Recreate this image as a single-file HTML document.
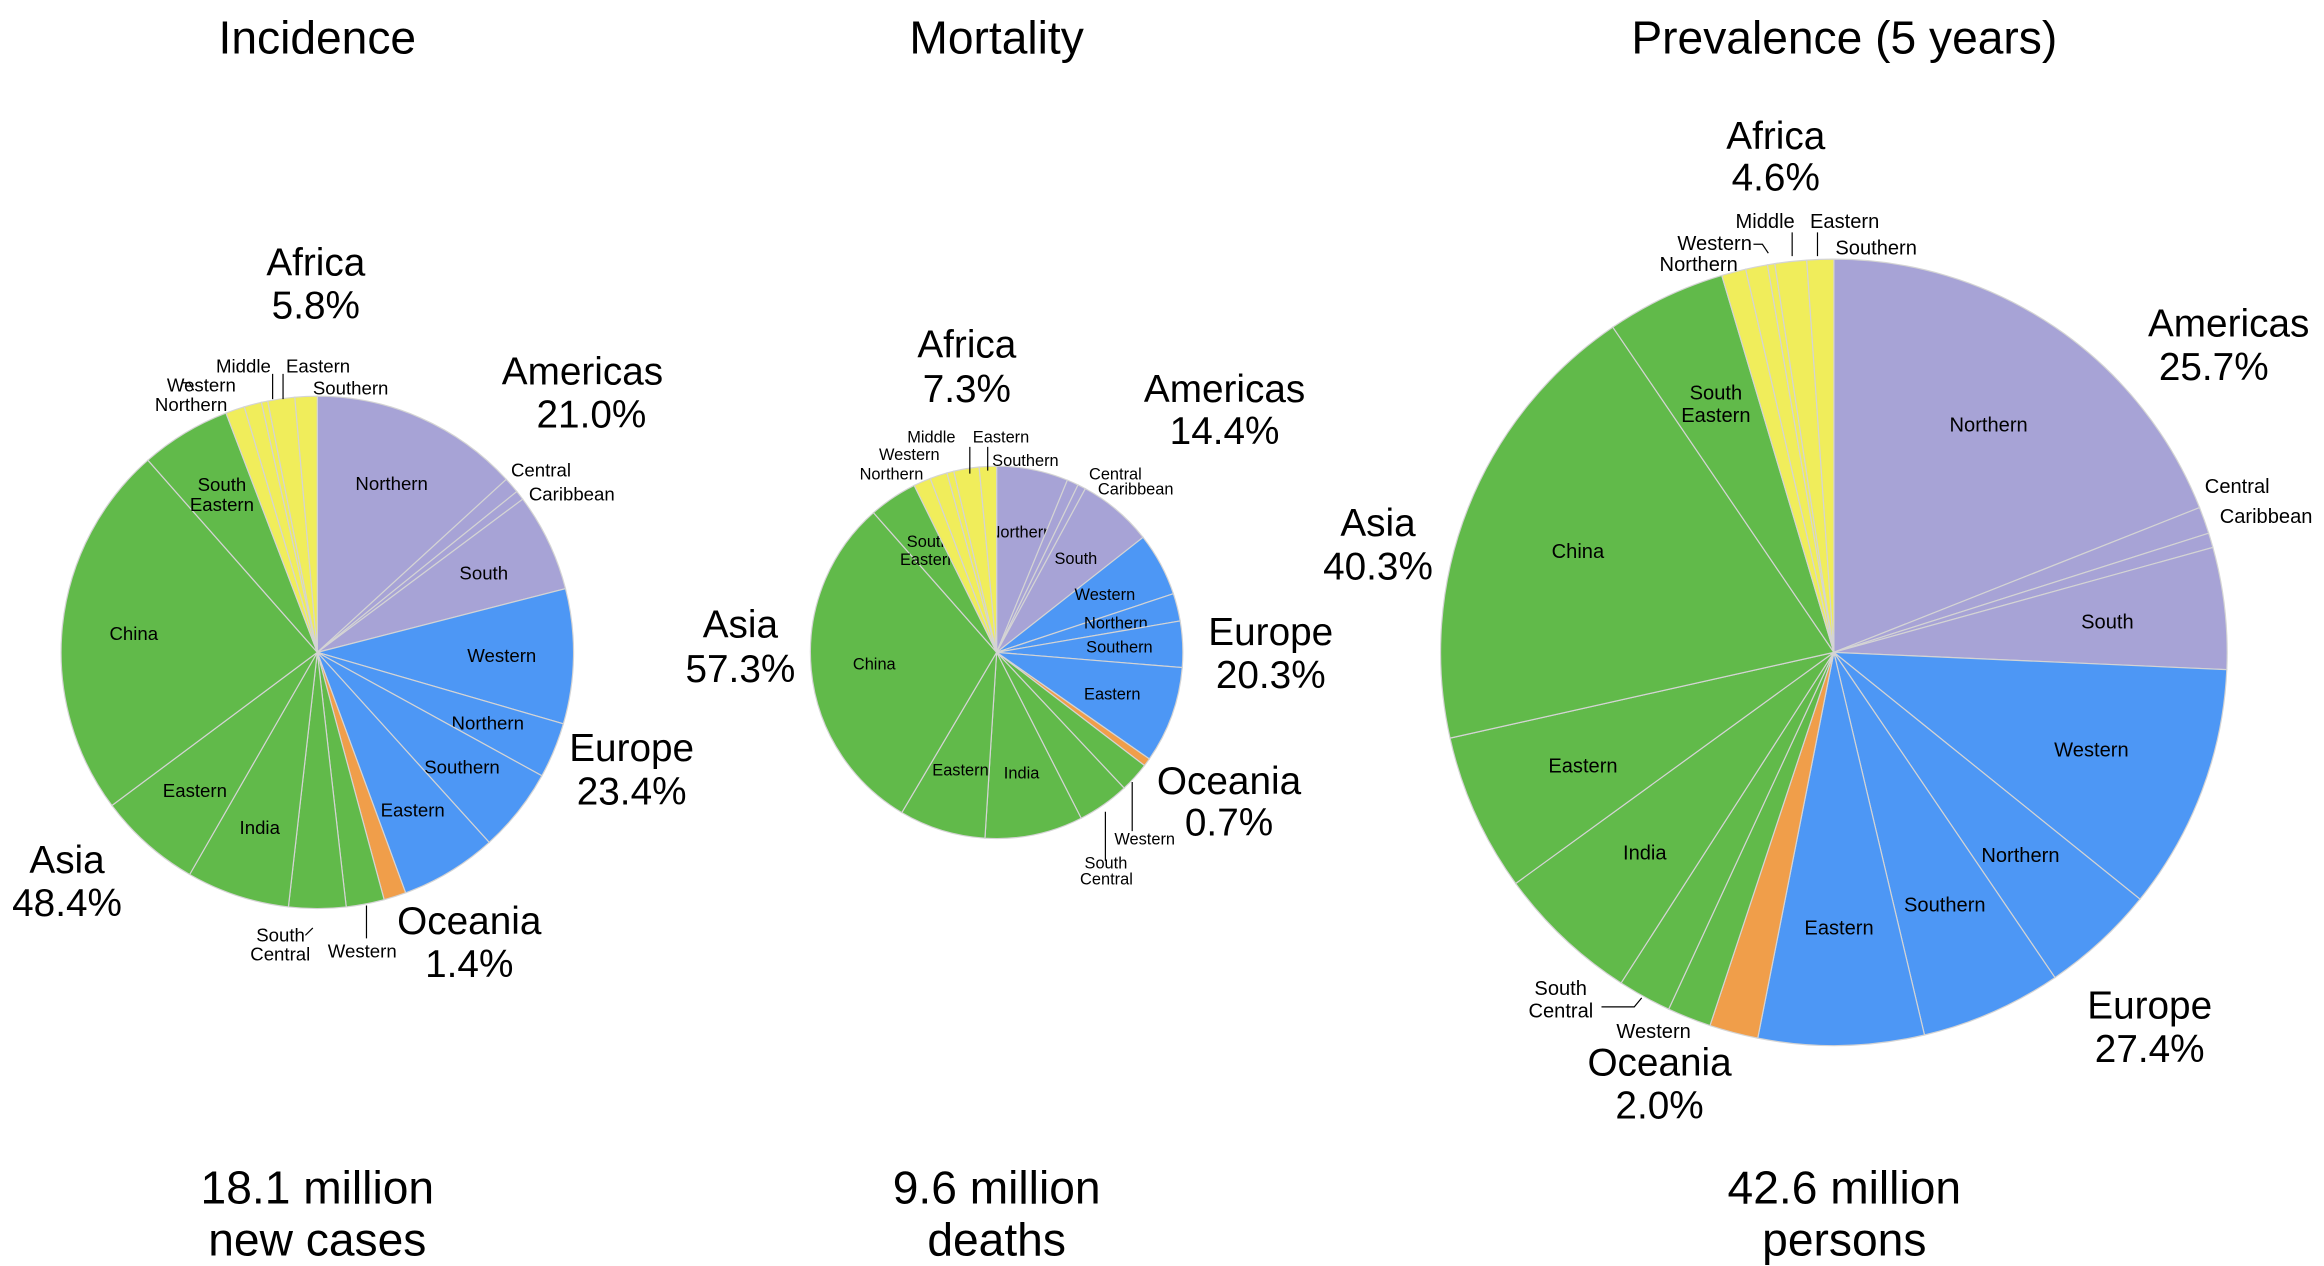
<!DOCTYPE html>
<html><head><meta charset="utf-8"><style>
html,body{margin:0;padding:0;background:#fff}
svg{display:block}
text{font-family:"Liberation Sans",Arial,sans-serif;fill:#000}
</style></head><body>
<svg id="chart" width="2324" height="1266" viewBox="0 0 1560 850" preserveAspectRatio="none" xmlns="http://www.w3.org/2000/svg">
<g id="pies"></g>
<g id="labels" font-size="13">
  <text x="213" y="36" font-size="31" text-anchor="middle">Incidence</text>
  <text x="669" y="36" font-size="31" text-anchor="middle">Mortality</text>
  <text x="1238" y="36" font-size="31" text-anchor="middle">Prevalence (5 years)</text>
  <g font-size="31" text-anchor="middle"><text x="213" y="808">18.1 million</text><text x="213" y="843">new cases</text></g>
  <g font-size="31" text-anchor="middle"><text x="669" y="808">9.6 million</text><text x="669" y="843">deaths</text></g>
  <g font-size="31" text-anchor="middle"><text x="1238" y="808">42.6 million</text><text x="1238" y="843">persons</text></g>

  <g font-size="26" text-anchor="middle">
    <text x="212" y="185">Africa</text><text x="212" y="214">5.8%</text>
    <text x="391" y="258">Americas</text><text x="397" y="287">21.0%</text>
    <text x="424" y="511">Europe</text><text x="424" y="540">23.4%</text>
    <text x="315" y="627">Oceania</text><text x="315" y="656">1.4%</text>
    <text x="45" y="586">Asia</text><text x="45" y="615">48.4%</text>
  </g>
  <g font-size="26" text-anchor="middle">
    <text x="649" y="240">Africa</text><text x="649" y="270">7.3%</text>
    <text x="822" y="270">Americas</text><text x="822" y="298">14.4%</text>
    <text x="853" y="433">Europe</text><text x="853" y="462">20.3%</text>
    <text x="825" y="533">Oceania</text><text x="825" y="561">0.7%</text>
    <text x="497" y="428">Asia</text><text x="497" y="458">57.3%</text>
  </g>
  <g font-size="26" text-anchor="middle">
    <text x="1192" y="100">Africa</text><text x="1192" y="128">4.6%</text>
    <text x="1496" y="226">Americas</text><text x="1486" y="255">25.7%</text>
    <text x="1443" y="684">Europe</text><text x="1443" y="713">27.4%</text>
    <text x="1114" y="722">Oceania</text><text x="1114" y="751">2.0%</text>
    <text x="925" y="360">Asia</text><text x="925" y="389">40.3%</text>
  </g>

  <g font-size="12.5">
    <text x="145" y="250">Middle</text><text x="192" y="250">Eastern</text>
    <text x="112" y="263">Western</text><text x="104" y="276">Northern</text>
    <text x="210" y="265">Southern</text>
    <text x="343" y="320">Central</text><text x="355" y="336">Caribbean</text>
    <text x="172" y="632">South</text><text x="168" y="645">Central</text>
    <text x="220" y="643">Western</text>
    <path d="M183 251V268M190 251V268M122 257H127L130 262M246 608V630M210 623L205 628" stroke="#000" stroke-width="0.8" fill="none"/>
  </g>
  <g font-size="11">
    <text x="609" y="297">Middle</text><text x="653" y="297">Eastern</text>
    <text x="590" y="309">Western</text><text x="577" y="322">Northern</text>
    <text x="666" y="313">Southern</text>
    <text x="731" y="322">Central</text><text x="737" y="332">Caribbean</text>
    <text x="728" y="583">South</text><text x="725" y="594">Central</text>
    <text x="748" y="567">Western</text>
    <path d="M651 300V318M663 300V316M742 545V578M760 525V558" stroke="#000" stroke-width="0.8" fill="none"/>
  </g>
  <g font-size="13.5">
    <text x="1165" y="153">Middle</text><text x="1215" y="153">Eastern</text>
    <text x="1126" y="168">Western</text><text x="1114" y="182">Northern</text>
    <text x="1232" y="171">Southern</text>
    <text x="1480" y="331">Central</text><text x="1490" y="351">Caribbean</text>
    <text x="1030" y="668">South</text><text x="1026" y="683">Central</text>
    <text x="1085" y="697">Western</text>
    <path d="M1203 156V172M1220 156V172M1177 164H1183L1187 170M1075 676H1097L1102 670" stroke="#000" stroke-width="0.8" fill="none"/>
  </g>
</g>
</svg>
<script>
// slice order clockwise from 12 o'clock
const sliceNames = ["Am-Northern","Am-Central","Am-Caribbean","Am-South","Eu-Western","Eu-Northern","Eu-Southern","Eu-Eastern","Oceania","As-Western","As-SouthCentral","As-India","As-Eastern","As-China","As-SouthEastern","Af-Northern","Af-Western","Af-Middle","Af-Eastern","Af-Southern"];
const sliceRegions = ["am","am","am","am","eu","eu","eu","eu","oc","as","as","as","as","as","as","af","af","af","af","af"];
const innerLabels = ["Northern","","","South","Western","Northern","Southern","Eastern","","","","India","Eastern","China","South|Eastern","","","","",""];
const incidenceValues = [13.2,1.0,0.6,6.2,8.5,3.5,5.3,6.1,1.4,2.4,3.6,6.5,6.5,23.7,5.7,1.2,1.1,0.4,1.7,1.4];
const mortalityValues = [6.2,1.0,0.7,6.5,5.5,2.4,4.0,8.4,0.7,2.6,4.5,8.5,7.5,30.0,4.2,1.5,1.5,0.6,2.2,1.5];
const prevalenceValues = [19.0,1.1,0.6,5.0,10.1,4.7,5.8,6.8,2.0,1.8,2.2,5.9,6.5,19.0,4.9,1.0,0.9,0.3,1.3,1.1];
const regionColors = {am:"#a7a3d6",eu:"#4d97f5",oc:"#f09e4a",as:"#61ba4a",af:"#f0ed5b"};
const NS="http://www.w3.org/2000/svg";
function drawPie(name, values, cx, cy, r, fs, lf){
  const g=document.createElementNS(NS,"g");
  
  
  const total=values.reduce((a,b)=>a+b,0);
  let acc=0;
  const pt=(f,rr)=>{const a=f*2*Math.PI;return [cx+rr*Math.sin(a), cy-rr*Math.cos(a)];};
  values.forEach((v,i)=>{
    const f0=acc/total, f1=(acc+v)/total; acc+=v;
    const p0=pt(f0,r), p1=pt(f1,r);
    const large=(f1-f0)>0.5?1:0;
    const path=document.createElementNS(NS,"path");
    path.setAttribute("d",`M${cx} ${cy}L${p0[0]} ${p0[1]}A${r} ${r} 0 ${large} 1 ${p1[0]} ${p1[1]}Z`);
    path.setAttribute("fill",regionColors[sliceRegions[i]]);
    path.setAttribute("stroke","#d4d4d4");
    path.setAttribute("stroke-width","0.8");
    
    
    g.appendChild(path);
    if(innerLabels[i]){
      const m=pt((f0+f1)/2, r*lf);
      const lines=innerLabels[i].split("|");
      const t=document.createElementNS(NS,"text");
      
      
      t.setAttribute("text-anchor","middle");
      t.setAttribute("font-size",fs);
      lines.forEach((ln,k)=>{
        const ts=document.createElementNS(NS,"tspan");
        ts.setAttribute("x",m[0]);
        ts.setAttribute("y",m[1]+fs*0.35+(k-(lines.length-1)/2)*fs*1.1);
        ts.textContent=ln;
        t.appendChild(ts);
      });
      g.appendChild(t);
    }
  });
  document.getElementById("pies").appendChild(g);
}
drawPie("incidence", incidenceValues, 213, 438, 172, 12.5, 0.72);
drawPie("mortality", mortalityValues, 669, 438, 125, 11, 0.66);
drawPie("prevalence", prevalenceValues, 1231, 438, 264, 13.5, 0.7);
</script>
</body></html>
